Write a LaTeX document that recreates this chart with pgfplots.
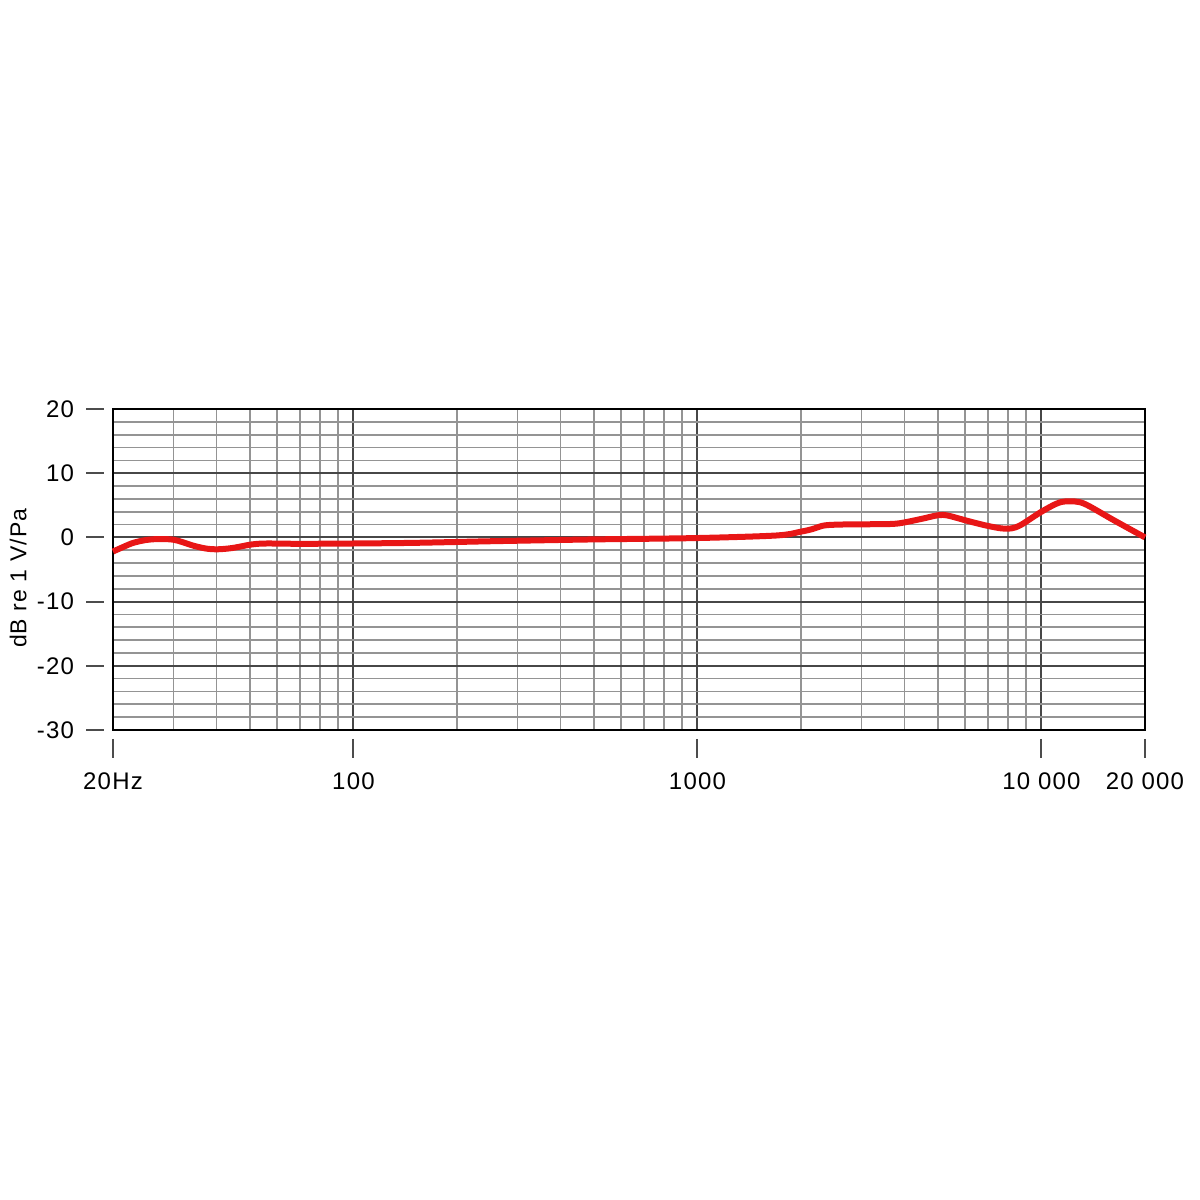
\documentclass[border=0pt]{standalone}
\usepackage{fontspec}
\setmainfont{Liberation Sans}[LetterSpace=5]
\usepackage{pgfplots}
\pgfplotsset{compat=1.18}
\definecolor{curve}{RGB}{232,22,22}
\begin{document}
\begin{tikzpicture}
\path[use as bounding box] (0,0) rectangle (600pt,600pt);
\begin{axis}[
 at={(56.5pt,235pt)}, anchor=south west,
 scale only axis, width=516pt, height=160.5pt,
 xmode=log, xmin=20, xmax=20000, ymin=-30, ymax=20,
 xtick={20,100,1000,10000,20000},
 xticklabels={20Hz,100,1000,10 000,20 000},
 minor xtick={30,40,50,60,70,80,90,200,300,400,500,600,700,800,900,2000,3000,4000,5000,6000,7000,8000,9000},
 ytick={-30,-20,-10,0,10,20},
 minor ytick={-28,-26,-24,-22,-18,-16,-14,-12,-8,-6,-4,-2,2,4,6,8,12,14,16,18},
 grid=both,
 major grid style={black!72, line width=1pt},
 minor grid style={black!42, line width=0.85pt},
 major tick length=0pt, minor tick length=0pt,
 axis line style={black, line width=1.2pt},
 tick label style={font=\fontsize{12}{14}\selectfont},
 /pgf/number format/assume math mode=true,
 yticklabel style={xshift=-16pt},
 xticklabel style={yshift=-18pt},
 ylabel={dB re 1 V/Pa},
 ylabel style={at={(axis description cs:-0.092,0.473)}, anchor=center, font=\fontsize{11.5}{13}\selectfont},
 clip=false,
]
\addplot[curve, line width=3pt, smooth, tension=0.5] table {
20 -2.2
21.4 -1.5
22.9 -0.85
25 -0.4
27.3 -0.25
29.9 -0.35
31.9 -0.75
34.3 -1.3
37.4 -1.75
40.4 -1.85
44.5 -1.65
50.6 -1.1
55.9 -0.95
70 -1.0
100 -0.95
150 -0.85
250 -0.6
400 -0.4
520 -0.3
1000 -0.1
1700 0.3
2000 0.9
2160 1.3
2330 1.85
2600 2.0
3200 2.05
3800 2.15
4450 2.85
5000 3.45
5340 3.4
6070 2.6
6900 1.85
7650 1.4
8170 1.4
8720 1.95
10000 4.0
11300 5.45
12500 5.6
13500 5.1
16200 2.7
20000 0
};
\pgfplotsinvokeforeach{-30,-20,-10,0,10,20}{
 \draw[black!70, line width=1pt] ([xshift=-13.5pt]axis cs:20,#1) -- ([xshift=-4.5pt]axis cs:20,#1);
}
\pgfplotsinvokeforeach{20,100,1000,10000,20000}{
 \draw[black!70, line width=1pt] ([yshift=-4.5pt]axis cs:#1,-30) -- ([yshift=-14pt]axis cs:#1,-30);
}
\end{axis}
\end{tikzpicture}
\end{document}
